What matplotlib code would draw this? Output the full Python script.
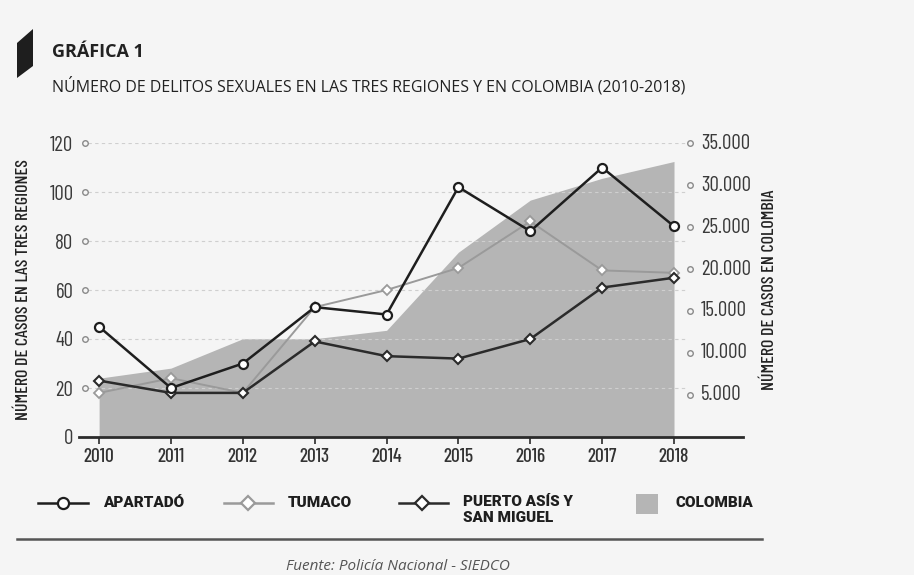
import matplotlib
matplotlib.use("Agg")
import matplotlib.pyplot as plt
from matplotlib.patches import Polygon, Rectangle
from matplotlib.lines import Line2D
import matplotlib.transforms as mtransforms

# Data
years = [2010, 2011, 2012, 2013, 2014, 2015, 2016, 2017, 2018]
apartado = [45, 20, 30, 53, 50, 102, 84, 110, 86]
tumaco = [18, 24, 18, 53, 60, 69, 88, 68, 67]
puerto_asis = [23, 18, 18, 39, 33, 32, 40, 61, 65]
colombia = [7000, 8200, 11700, 11700, 12700, 22000, 28200, 30800, 32800]

left_ticks = [0, 20, 40, 60, 80, 100, 120]
right_ticks = [5000, 10000, 15000, 20000, 25000, 30000, 35000]

BG = "#f5f5f5"
COND = ["Barlow Condensed", "DejaVu Sans"]
HEAVY = ["Roboto", "DejaVu Sans"]
OPEN = ["Open Sans", "DejaVu Sans"]

fig = plt.figure(figsize=(9.14, 5.75), dpi=100, facecolor=BG)
W, H = 914, 575

def fx(px):
    return px / W

def fy(py):
    return 1 - py / H

ax = fig.add_axes([fx(79), fy(437), (743 - 79) / W, (437 - 143) / H])
ax2 = ax.twinx()
ax.set_zorder(2)
ax.patch.set_visible(False)
ax2.set_zorder(1)

ax.set_xlim(2009.72, 2018.96)
ax.set_ylim(0, 120)
ax2.set_ylim(0, 35000)

# Colombia area
ax2.fill_between(years, colombia, 0, color="#b5b5b5", lw=0)

# grid lines
for v in left_ticks[1:]:
    ax.axhline(v, xmin=0.014, xmax=0.917, color="#cfcfcf", lw=0.8, ls=(0, (3, 3)), zorder=0)

# series
ax.plot(years, tumaco, color="#9a9a9a", lw=1.4, marker="D", ms=5.5, mfc="white",
        mec="#9a9a9a", mew=1.3, zorder=3, clip_on=False)
ax.plot(years, puerto_asis, color="#2b2b2b", lw=1.8, marker="D", ms=5.5, mfc="white",
        mec="#2b2b2b", mew=1.5, zorder=4, clip_on=False)
ax.plot(years, apartado, color="#1e1e1e", lw=1.8, marker="o", ms=6.5, mfc="white",
        mec="#1e1e1e", mew=1.6, zorder=5, clip_on=False)

# spines / ticks
for s in ["top", "right", "left"]:
    ax.spines[s].set_visible(False)
    ax2.spines[s].set_visible(False)
ax2.spines["bottom"].set_visible(False)
ax.spines["bottom"].set_color("#2b2b2b")
ax.spines["bottom"].set_linewidth(2)

ax.set_xticks(years)
ax.set_xticklabels([str(y) for y in years], fontfamily=COND, fontweight="medium",
                   fontsize=14, color="#333333")
ax.tick_params(axis="x", length=5, width=1.2, color="#2b2b2b", pad=3)

ax.set_yticks(left_ticks)
ax.set_yticklabels([str(v) for v in left_ticks], fontfamily=COND, fontsize=15, color="#3a3a3a")
ax.tick_params(axis="y", length=0, pad=4)
ax2.set_yticks([])

# small circle tick markers
tl = mtransforms.blended_transform_factory(ax.transAxes, ax.transData)
for v in left_ticks[1:]:
    ax.plot([0.009], [v], marker="o", ms=4, mfc=BG, mec="#8a8a8a", mew=1,
            transform=tl, clip_on=False, zorder=6)
tr = mtransforms.blended_transform_factory(ax2.transAxes, ax2.transData)
for v in right_ticks:
    ax2.plot([0.92], [v], marker="o", ms=4, mfc=BG, mec="#8a8a8a", mew=1,
             transform=tr, clip_on=False, zorder=6)
    ax2.text(0.937, v, f"{v:,}".replace(",", "."), transform=tr, ha="left", va="center",
             fontfamily=COND, fontsize=15, color="#3a3a3a")

ax.set_ylabel("NÚMERO DE CASOS EN LAS TRES REGIONES", fontfamily=COND, fontweight="medium",
              fontsize=13, color="#222222")
ax.yaxis.set_label_coords(-(79 - 31) / 664, 0.5)
fig.text(fx(769), fy(290), "NÚMERO DE CASOS EN COLOMBIA", rotation=90, ha="center",
         va="center", fontfamily=COND, fontweight="medium", fontsize=13, color="#222222")

# header
fig.patches.append(Polygon([(fx(17), fy(43)), (fx(33), fy(29)), (fx(33), fy(66)), (fx(17), fy(78))],
                           closed=True, transform=fig.transFigure, facecolor="#1e1e1e",
                           edgecolor="none"))
fig.text(fx(52), fy(52), "GRÁFICA 1", fontfamily=OPEN, fontweight="bold",
         fontsize=13, color="#222222", va="center", ha="left")
fig.text(fx(52), fy(86), "NÚMERO DE DELITOS SEXUALES EN LAS TRES REGIONES Y EN COLOMBIA (2010-2018)",
         fontfamily=OPEN, fontsize=11.5, color="#222222", va="center", ha="left")

# legend
ly = fy(503)
def legend_line(x0, x1, xm, color, marker, ms):
    fig.lines.append(Line2D([fx(x0), fx(x1)], [ly, ly], transform=fig.transFigure,
                            color=color, lw=1.8))
    fig.lines.append(Line2D([fx(xm)], [ly], transform=fig.transFigure, marker=marker,
                            ms=ms, mfc="white", mec=color, mew=1.6, lw=0))

legend_line(38, 88, 63, "#1e1e1e", "o", 8)
legend_line(224, 273, 248, "#9a9a9a", "D", 7)
legend_line(399, 448, 422, "#2b2b2b", "D", 7)
fig.patches.append(Rectangle((fx(636), fy(514)), fx(658) - fx(636), fy(494) - fy(514),
                             transform=fig.transFigure, facecolor="#b5b5b5", edgecolor="none"))
lkw = dict(fontfamily=HEAVY, fontweight="black", fontsize=11, color="#1e1e1e",
           ha="left")
fig.text(fx(103), ly, "APARTADÓ", va="center", **lkw)
fig.text(fx(288), ly, "TUMACO", va="center", **lkw)
fig.text(fx(463), fy(495), "PUERTO ASÍS Y\nSAN MIGUEL", va="top", linespacing=1.15, **lkw)
fig.text(fx(675), ly, "COLOMBIA", va="center", **lkw)

fig.lines.append(Line2D([fx(17), fx(762)], [fy(539), fy(539)], transform=fig.transFigure,
                        color="#555555", lw=1.8))
fig.text(fx(398), fy(567), "Fuente: Policía Nacional - SIEDCO", fontfamily=OPEN,
         fontstyle="italic", fontsize=11, color="#555555", ha="center", va="center")

fig.savefig("out.png", dpi=100, facecolor=BG)
